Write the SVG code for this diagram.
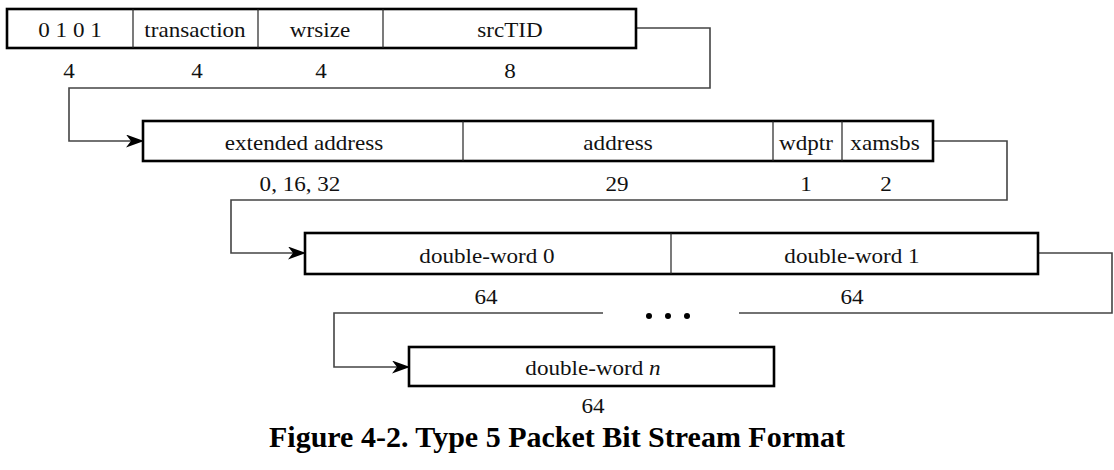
<svg xmlns="http://www.w3.org/2000/svg" width="1114" height="470" viewBox="0 0 1114 470">
<defs>
<style>
.box{fill:#fff;stroke:#000;stroke-width:2.6}
.div{stroke:#222;stroke-width:1.2}
.lbl{font-family:"Liberation Serif","Times New Roman",serif;font-size:22px;fill:#111;text-anchor:middle}
.cap{font-family:"Liberation Serif","Times New Roman",serif;font-size:30px;font-weight:bold;fill:#000;text-anchor:middle}
.con{fill:none;stroke:#444;stroke-width:1.6}
</style>
<marker id="arr" markerWidth="18" markerHeight="13" refX="17" refY="6.5" orient="auto" markerUnits="userSpaceOnUse">
<path d="M0,0 L18,6.5 L0,13 L5,6.5 Z" fill="#000"/>
</marker>
</defs>
<rect width="1114" height="470" fill="#fff"/>

<g id="connectors">
<polyline class="con" points="636,28 710,28 710,88 69,88 69,141 143,141" marker-end="url(#arr)"/>
<polyline class="con" points="933,141 1007,141 1007,200 231,200 231,253 305,253" marker-end="url(#arr)"/>
<polyline class="con" points="1038,253 1112,253 1112,313 739,313"/>
<polyline class="con" points="603,313 334,313 334,367 409,367" marker-end="url(#arr)"/>
<circle cx="649" cy="316" r="3" fill="#000"/>
<circle cx="668" cy="316" r="3" fill="#000"/>
<circle cx="687" cy="316" r="3" fill="#000"/>
</g>

<g id="row1">
<rect class="box" x="7" y="9" width="629" height="39"/>
<line class="div" x1="133" y1="9" x2="133" y2="48"/>
<line class="div" x1="258" y1="9" x2="258" y2="48"/>
<line class="div" x1="383" y1="9" x2="383" y2="48"/>
<text class="lbl" transform="translate(70 37) scale(1.05 1)">0 1 0 1</text>
<text class="lbl" transform="translate(195 37) scale(1.05 1)">transaction</text>
<text class="lbl" transform="translate(320 37) scale(1.05 1)">wrsize</text>
<text class="lbl" transform="translate(510 37) scale(1.05 1)">srcTID</text>
<text class="lbl" transform="translate(69 78) scale(1.05 1)">4</text>
<text class="lbl" transform="translate(197 78) scale(1.05 1)">4</text>
<text class="lbl" transform="translate(321 78) scale(1.05 1)">4</text>
<text class="lbl" transform="translate(510 78) scale(1.05 1)">8</text>
</g>

<g id="row2">
<rect class="box" x="143" y="121" width="790" height="40"/>
<line class="div" x1="463" y1="121" x2="463" y2="161"/>
<line class="div" x1="773" y1="121" x2="773" y2="161"/>
<line class="div" x1="842" y1="121" x2="842" y2="161"/>
<text class="lbl" transform="translate(304 150) scale(1.05 1)">extended address</text>
<text class="lbl" transform="translate(618 150) scale(1.05 1)">address</text>
<text class="lbl" transform="translate(806 150) scale(1.05 1)">wdptr</text>
<text class="lbl" transform="translate(885 150) scale(1.05 1)">xamsbs</text>
<text class="lbl" transform="translate(300 191) scale(1.05 1)">0, 16, 32</text>
<text class="lbl" transform="translate(617 191) scale(1.05 1)">29</text>
<text class="lbl" transform="translate(806 191) scale(1.05 1)">1</text>
<text class="lbl" transform="translate(886 191) scale(1.05 1)">2</text>
</g>

<g id="row3">
<rect class="box" x="305" y="233" width="733" height="41"/>
<line class="div" x1="671" y1="233" x2="671" y2="274"/>
<text class="lbl" transform="translate(487 263) scale(1.05 1)">double-word 0</text>
<text class="lbl" transform="translate(852 263) scale(1.05 1)">double-word 1</text>
<text class="lbl" transform="translate(486 304) scale(1.05 1)">64</text>
<text class="lbl" transform="translate(852 304) scale(1.05 1)">64</text>
</g>

<g id="row4">
<rect class="box" x="409" y="347" width="365" height="39"/>
<text class="lbl" transform="translate(593 375) scale(1.05 1)">double-word <tspan font-style="italic">n</tspan></text>
<text class="lbl" transform="translate(593 413) scale(1.05 1)">64</text>
</g>

<g id="caption">
<text class="cap" x="557" y="447">Figure 4-2. Type 5 Packet Bit Stream Format</text>
</g>
</svg>
